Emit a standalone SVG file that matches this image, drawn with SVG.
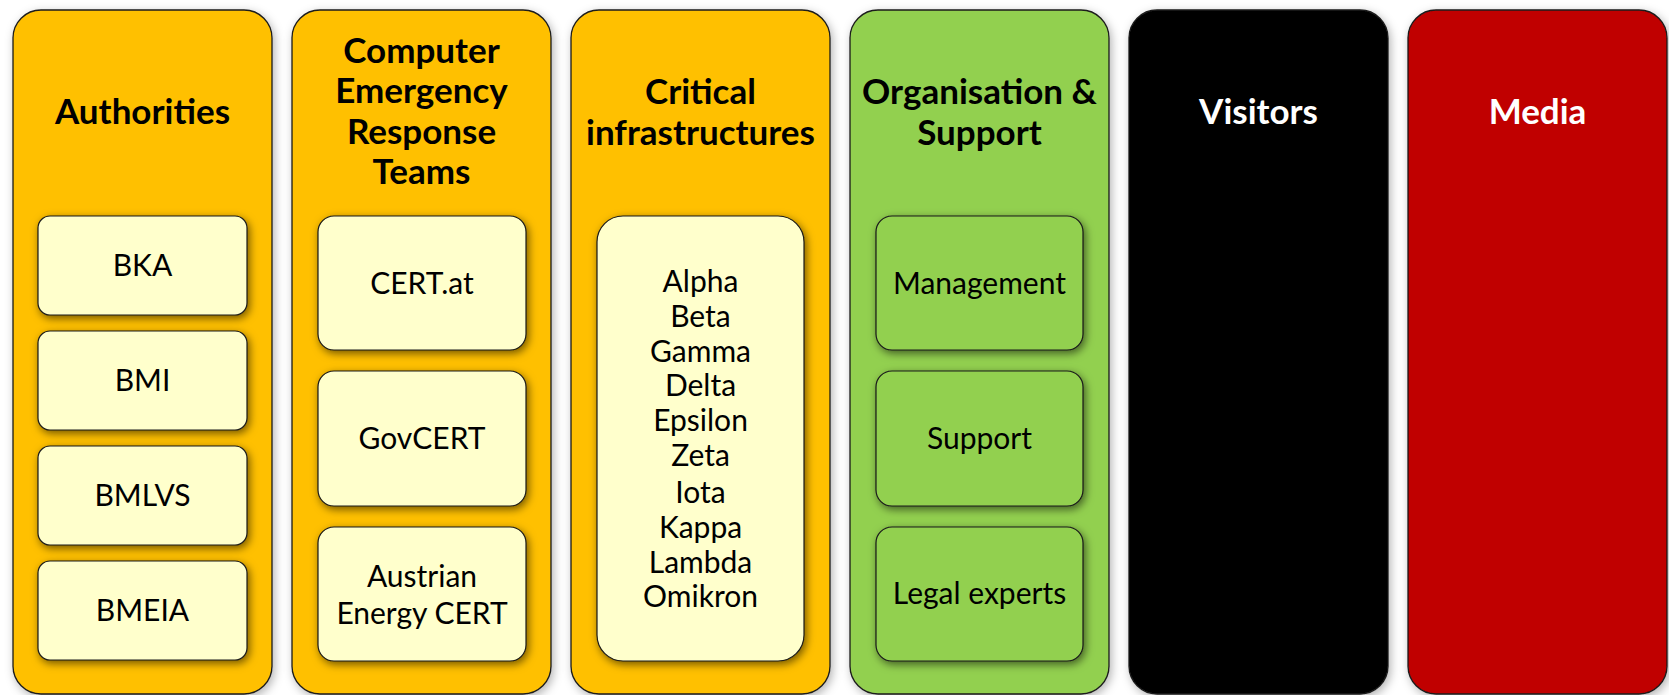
<svg xmlns="http://www.w3.org/2000/svg" width="1669" height="695" viewBox="0 0 1669 695">
<defs>
<filter id="colSh" x="-10%" y="-5%" width="120%" height="110%">
<feGaussianBlur in="SourceAlpha" stdDeviation="5"/>
<feOffset dx="2" dy="3" result="b"/>
<feFlood flood-color="#000" flood-opacity="0.3"/>
<feComposite in2="b" operator="in"/>
<feMerge><feMergeNode/><feMergeNode in="SourceGraphic"/></feMerge>
</filter>
<filter id="boxSh" x="-15%" y="-15%" width="130%" height="130%">
<feGaussianBlur in="SourceAlpha" stdDeviation="4"/>
<feOffset dx="2" dy="3" result="b"/>
<feFlood flood-color="#000" flood-opacity="0.55"/>
<feComposite in2="b" operator="in"/>
<feMerge><feMergeNode/><feMergeNode in="SourceGraphic"/></feMerge>
</filter>
<style>
.col{stroke:#1a1a1a;stroke-width:1.3;filter:url(#colSh)}
.box{stroke:#1a1a1a;stroke-width:1.2;filter:url(#boxSh)}
.orange{fill:#FFC000}
.green{fill:#92D050}
.black{fill:#000000}
.red{fill:#C00000}
.pale{fill:#FFFFCC}
.title{font-family:Lato,"Open Sans","Liberation Sans",sans-serif;font-weight:bold;font-size:35px;text-anchor:middle;fill:#000}
.wt{fill:#fff}
.lbl{font-family:Lato,"Open Sans","Liberation Sans",sans-serif;font-size:30px;text-anchor:middle;fill:#000}
</style>
</defs>
<rect width="1669" height="695" fill="#fff"/>

<g id="authorities">
<rect class="col orange" x="13" y="10" width="259" height="684" rx="28"/>
<text class="title" x="142.5" y="124">Authorities</text>
<g id="bka"><rect class="box pale" x="38" y="216" width="209" height="99" rx="12"/><text class="lbl" x="142.5" y="276">BKA</text></g>
<g id="bmi"><rect class="box pale" x="38" y="331" width="209" height="99" rx="12"/><text class="lbl" x="142.5" y="391">BMI</text></g>
<g id="bmlvs"><rect class="box pale" x="38" y="446" width="209" height="99" rx="12"/><text class="lbl" x="142.5" y="506">BMLVS</text></g>
<g id="bmeia"><rect class="box pale" x="38" y="561" width="209" height="99" rx="12"/><text class="lbl" x="142.5" y="621">BMEIA</text></g>
</g>

<g id="cert">
<rect class="col orange" x="292" y="10" width="259" height="684" rx="28"/>
<text class="title" x="421.5" y="63">Computer</text>
<text class="title" x="421.5" y="103">Emergency</text>
<text class="title" x="421.5" y="144">Response</text>
<text class="title" x="421.5" y="184">Teams</text>
<g id="certat"><rect class="box pale" x="318" y="216" width="208" height="134" rx="16"/><text class="lbl" x="422" y="294">CERT.at</text></g>
<g id="govcert"><rect class="box pale" x="318" y="371" width="208" height="135" rx="16"/><text class="lbl" x="422" y="449">GovCERT</text></g>
<g id="aecert"><rect class="box pale" x="318" y="527" width="208" height="134" rx="16"/><text class="lbl" x="422" y="587">Austrian</text><text class="lbl" x="422" y="624">Energy CERT</text></g>
</g>

<g id="critical">
<rect class="col orange" x="571" y="10" width="259" height="684" rx="28"/>
<text class="title" x="700.5" y="104">Critical</text>
<text class="title" x="700.5" y="145">infrastructures</text>
<g id="infra"><rect class="box pale" x="597" y="216" width="207" height="445" rx="26"/>
<text class="lbl" x="700.5" y="292">Alpha</text>
<text class="lbl" x="700.5" y="327">Beta</text>
<text class="lbl" x="700.5" y="362">Gamma</text>
<text class="lbl" x="700.5" y="396">Delta</text>
<text class="lbl" x="700.5" y="431">Epsilon</text>
<text class="lbl" x="700.5" y="466">Zeta</text>
<text class="lbl" x="700.5" y="503">Iota</text>
<text class="lbl" x="700.5" y="538">Kappa</text>
<text class="lbl" x="700.5" y="573">Lambda</text>
<text class="lbl" x="700.5" y="607">Omikron</text>
</g>
</g>

<g id="organisation">
<rect class="col green" x="850" y="10" width="259" height="684" rx="28"/>
<text class="title" x="979.5" y="104">Organisation &amp;</text>
<text class="title" x="979.5" y="145">Support</text>
<g id="management"><rect class="box green" x="876" y="216" width="207" height="134" rx="16"/><text class="lbl" x="979.5" y="294">Management</text></g>
<g id="support"><rect class="box green" x="876" y="371" width="207" height="135" rx="16"/><text class="lbl" x="979.5" y="449">Support</text></g>
<g id="legal"><rect class="box green" x="876" y="527" width="207" height="134" rx="16"/><text class="lbl" x="979.5" y="604">Legal experts</text></g>
</g>

<g id="visitors">
<rect class="col black" x="1129" y="10" width="259" height="684" rx="28"/>
<text class="title wt" x="1258.5" y="124">Visitors</text>
</g>

<g id="media">
<rect class="col red" x="1408" y="10" width="259" height="684" rx="28"/>
<text class="title wt" x="1537.5" y="124">Media</text>
</g>

<g id="connectors"/>
</svg>
